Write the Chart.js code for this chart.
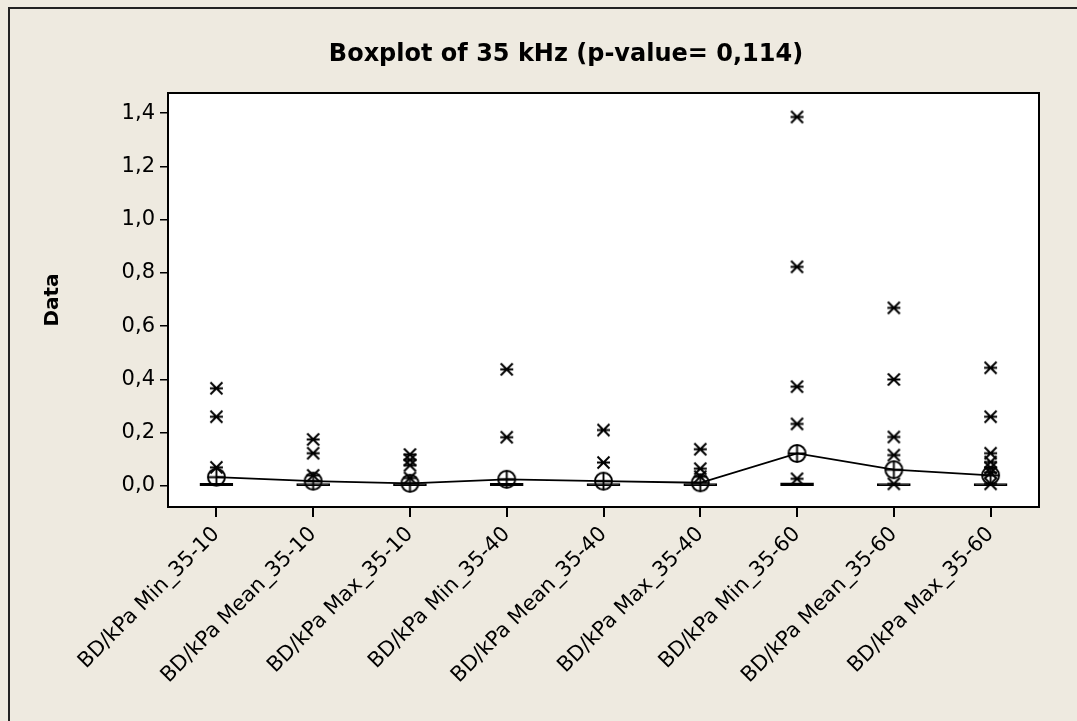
<!DOCTYPE html>
<html>
<head>
<meta charset="utf-8">
<script src="https://cdn.jsdelivr.net/npm/chart.js@4.4.1/dist/chart.umd.min.js"></script>
<style>
  html, body { margin: 0; padding: 0; width: 1077px; height: 721px; overflow: hidden; background: #eeeae0; }
  #frame { position: absolute; left: 8px; top: 7px; width: 1200px; height: 800px; border-left: 2px solid #222; border-top: 2px solid #222; }
  #boxChart { position: absolute; left: 0; top: 0; }
</style>
</head>
<body>
<div id="frame"></div>
<canvas id="boxChart" width="1077" height="721"></canvas>
<script>
// Boxplot data
const categories = ['BD/kPa Min_35-10', 'BD/kPa Mean_35-10', 'BD/kPa Max_35-10',
                    'BD/kPa Min_35-40', 'BD/kPa Mean_35-40', 'BD/kPa Max_35-40',
                    'BD/kPa Min_35-60', 'BD/kPa Mean_35-60', 'BD/kPa Max_35-60'];
const q1Values = [0.001, 0.001, 0.001, 0.001, 0.001, 0.001, 0.001, 0.001, 0.001];
const q3Values = [0.010, 0.009, 0.009, 0.010, 0.009, 0.009, 0.012, 0.009, 0.009];
const meanValues = [0.033, 0.018, 0.010, 0.025, 0.018, 0.012, 0.122, 0.061, 0.040];
const outliers = [
    [0.367, 0.260, 0.070],
    [0.175, 0.123, 0.040],
    [0.118, 0.098, 0.078, 0.030],
    [0.438, 0.183],
    [0.210, 0.088],
    [0.138, 0.065, 0.035],
    [1.386, 0.823, 0.373, 0.233, 0.027],
    [0.669, 0.400, 0.184, 0.116, 0.008],
    [0.444, 0.260, 0.123, 0.090, 0.068, 0.050, 0.008]
];
const yTicks = [0, 0.2, 0.4, 0.6, 0.8, 1.0, 1.2, 1.4];
const titleText = 'Boxplot of 35 kHz (p-value= 0,114)';

// Minitab style symbols
function makeAsterisk() {
    const c = document.createElement('canvas');
    c.width = 17; c.height = 17;
    const g = c.getContext('2d');
    g.strokeStyle = '#000';
    g.lineWidth = 2;
    g.beginPath();
    g.moveTo(2.5, 2.5); g.lineTo(14.5, 14.5);
    g.moveTo(14.5, 2.5); g.lineTo(2.5, 14.5);
    g.moveTo(2, 8.5); g.lineTo(15, 8.5);
    g.stroke();
    return c;
}

function makeMeanSymbol() {
    const c = document.createElement('canvas');
    c.width = 21; c.height = 21;
    const g = c.getContext('2d');
    g.strokeStyle = '#000';
    g.lineWidth = 1.9;
    g.beginPath();
    g.arc(10.5, 10.5, 8.5, 0, Math.PI * 2);
    g.stroke();
    g.beginPath();
    g.moveTo(10.5, 2); g.lineTo(10.5, 19);
    g.moveTo(2, 10.5); g.lineTo(19, 10.5);
    g.stroke();
    return c;
}

const outlierPoints = [];
outliers.forEach((list, i) => {
    list.forEach(v => outlierPoints.push({ x: categories[i], y: v }));
});

const framePlugin = {
    id: 'frame',
    beforeDraw(chart) {
        const a = chart.chartArea, ctx = chart.ctx;
        ctx.save();
        ctx.fillStyle = '#ffffff';
        ctx.fillRect(a.left, a.top, a.right - a.left, a.bottom - a.top);
        ctx.restore();
    },
    afterDraw(chart) {
        const a = chart.chartArea, ctx = chart.ctx;
        ctx.save();
        ctx.strokeStyle = '#000';
        ctx.lineWidth = 2;
        ctx.strokeRect(a.left, a.top, a.right - a.left, a.bottom - a.top);
        // title
        ctx.fillStyle = '#000';
        ctx.font = 'bold 24px "DejaVu Sans"';
        ctx.textAlign = 'center';
        ctx.textBaseline = 'middle';
        ctx.fillText(titleText, 566, 55);
        ctx.restore();
    }
};

const font = { family: '"DejaVu Sans", sans-serif', size: 21 };

new Chart(document.getElementById('boxChart').getContext('2d'), {
    type: 'bar',
    data: {
        labels: categories,
        datasets: [{
            type: 'bar',
            data: categories.map((c, i) => [q1Values[i], q3Values[i]]),
            backgroundColor: '#000',
            borderColor: '#000',
            borderWidth: 1,
            borderSkipped: false,
            barThickness: 33,
            order: 3
        }, {
            type: 'line',
            data: meanValues,
            borderColor: '#000',
            borderWidth: 1.8,
            tension: 0,
            pointStyle: makeMeanSymbol(),
            order: 2
        }, {
            type: 'line',
            data: outlierPoints,
            showLine: false,
            pointStyle: makeAsterisk(),
            order: 1
        }]
    },
    options: {
        responsive: false,
        animation: false,
        layout: { padding: { top: 93, right: 38, bottom: 0, left: 0 } },
        plugins: { legend: { display: false }, tooltip: { enabled: false }, title: { display: false } },
        scales: {
            x: {
                offset: true,
                afterFit(scale) { scale.height = 214; },
                border: { display: false },
                grid: { offset: false, drawOnChartArea: false, tickLength: 10, color: '#000', lineWidth: 2 },
                ticks: { color: '#000', font: font, minRotation: 45, maxRotation: 45, autoSkip: false, padding: 5 }
            },
            y: {
                min: -0.079,
                max: 1.476,
                afterFit(scale) { scale.width = 168; },
                afterBuildTicks(scale) { scale.ticks = yTicks.map(v => ({ value: v })); },
                border: { display: false },
                grid: { drawOnChartArea: false, tickLength: 8, color: '#000', lineWidth: 1.5 },
                ticks: {
                    color: '#000', font: font, padding: 5,
                    callback: v => v.toFixed(1).replace('.', ',')
                },
                title: {
                    display: true, text: 'Data', color: '#000',
                    font: { family: '"DejaVu Sans", sans-serif', size: 20, weight: 'bold' },
                    padding: { top: 41, bottom: 0 }
                }
            }
        }
    },
    plugins: [framePlugin]
});
</script>
</body>
</html>
